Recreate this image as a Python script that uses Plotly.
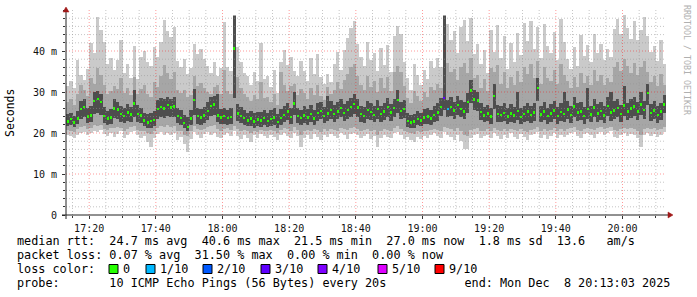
import plotly.graph_objects as go
import pandas as pd

# ---------------- data (ms), one sample per minute from 17:13 to 20:12 ----------------
ping_med = [
    22.8, 23.4, 22.6, 23.5, 25.8, 26.4, 24.0, 24.3, 27.8, 28.3,
    27.6, 24.2, 23.5, 23.8, 26.0, 25.7, 24.6, 24.2, 25.0, 24.5,
    27.2, 24.6, 24.3, 23.0, 22.6, 22.9, 23.2, 25.8, 26.4, 26.0,
    26.8, 26.2, 26.5, 24.2, 23.6, 22.4, 21.5, 23.5, 28.0, 24.1,
    23.8, 24.3, 25.4, 26.6, 26.9, 24.3, 23.8, 24.1, 23.6, 23.9,
    40.6, 24.8, 24.2, 23.6, 23.1, 23.5, 22.8, 23.3, 23.0, 23.6,
    22.9, 23.4, 23.8, 22.7, 23.6, 24.4, 25.2, 23.9, 27.2, 24.1,
    23.6, 24.3, 23.8, 24.6, 23.5, 24.9, 25.4, 24.2, 24.8, 25.6,
    24.7, 25.3, 26.1, 24.9, 25.6, 26.4, 27.1, 26.2, 24.6, 24.2,
    25.6, 25.1, 24.4, 25.8, 24.6, 25.2, 26.3, 25.0, 26.1, 28.0,
    25.4, 25.8, 22.9, 22.6, 22.8, 23.4, 23.1, 23.8, 24.0, 23.5,
    24.4, 25.0, 26.4, 28.6, 25.8, 26.4, 25.5, 26.8, 25.9, 25.3,
    27.6, 30.4, 28.2, 27.9, 25.1, 24.3, 24.8, 24.0, 29.0, 24.6,
    24.4, 24.9, 24.0, 24.8, 24.3, 25.4, 23.9, 24.6, 25.2, 24.4,
    25.0, 31.0, 24.5, 25.3, 24.1, 24.8, 25.5, 24.2, 25.1, 24.6,
    25.7, 24.4, 26.5, 25.0, 25.3, 24.1, 25.8, 24.5, 26.2, 24.8,
    25.4, 24.3, 26.6, 25.0, 25.5, 26.1, 24.6, 26.7, 25.2, 26.0,
    26.5, 25.3, 27.0, 25.6, 29.8, 24.9, 25.5, 24.4, 25.2, 27.0,
]
ping_min = [
    19.6, 19.2, 18.8, 19.5, 19.9, 20.3, 19.4, 20.1, 20.6, 20.2,
    20.8, 19.7, 19.3, 20.0, 19.1, 19.8, 20.4, 18.9, 19.6, 20.2,
    20.5, 19.4, 18.7, 19.2, 17.8, 16.7, 18.9, 19.8, 20.3, 19.5,
    20.1, 19.6, 19.9, 18.4, 19.0, 17.2, 15.4, 18.6, 20.2, 19.4,
    18.9, 19.8, 20.3, 19.5, 19.9, 19.1, 18.8, 19.6, 20.0, 19.3,
    20.4, 19.2, 18.6, 19.5, 18.9, 17.9, 19.4, 18.8, 19.7, 19.2,
    18.9, 19.6, 19.1, 18.3, 19.5, 20.0, 19.2, 18.7, 19.9, 19.3,
    16.7, 18.9, 19.5, 18.6, 19.8, 19.1, 18.4, 19.6, 19.0, 19.7,
    19.3, 18.8, 19.9, 19.4, 18.6, 19.8, 20.1, 19.5, 18.9, 19.2,
    19.7, 18.5, 19.3, 16.6, 18.8, 19.6, 19.1, 18.7, 19.9, 20.2,
    19.4, 18.6, 19.1, 18.4, 17.9, 19.0, 18.6, 19.3, 18.8, 19.5,
    19.9, 19.2, 18.7, 20.3, 19.5, 19.0, 18.4, 19.6, 18.1, 16.2,
    16.0, 18.9, 19.4, 19.8, 18.7, 19.2, 19.6, 18.8, 20.1, 19.3,
    18.6, 19.5, 18.8, 19.9, 19.1, 18.5, 19.7, 19.0, 18.3, 19.4,
    19.8, 20.2, 18.9, 19.5, 18.6, 19.3, 19.9, 18.7, 19.4, 19.0,
    19.6, 19.9, 20.3, 19.2, 18.8, 19.7, 20.0, 19.4, 18.9, 19.8,
    20.2, 19.5, 19.9, 20.4, 19.1, 18.7, 19.6, 20.1, 19.3, 19.8,
    19.4, 18.9, 16.6, 19.5, 20.0, 19.3, 19.8, 19.1, 19.6, 20.2,
]
ping_max = [
    31.5, 32.8, 30.9, 37.8, 34.2, 33.0, 35.6, 42.0, 39.5, 48.4,
    45.2, 42.1, 36.8, 38.2, 35.4, 37.9, 42.7, 34.6, 36.8, 33.5,
    41.3, 33.2, 38.5, 40.1, 37.2, 36.4, 41.0, 38.6, 42.3, 47.6,
    44.8, 43.5, 45.9, 37.6, 36.2, 38.0, 34.5, 35.8, 41.8, 39.2,
    40.6, 38.1, 36.4, 34.7, 37.3, 33.8, 35.9, 47.0, 36.2, 35.1,
    48.8, 40.9, 37.4, 34.6, 33.9, 31.7, 34.8, 32.6, 42.0, 33.1,
    34.0, 31.2, 35.3, 29.8, 37.2, 40.2, 36.7, 38.5, 35.2, 33.9,
    37.6, 35.1, 32.8, 38.2, 34.4, 39.3, 33.7, 31.9, 34.5, 32.4,
    36.8, 39.7, 35.4, 40.3, 43.1, 45.6, 47.2, 41.8, 38.6, 36.3,
    42.1, 37.8, 39.5, 35.2, 40.8, 36.6, 41.4, 34.9, 43.6, 46.0,
    44.2, 37.3, 33.4, 30.6, 36.9, 34.1, 31.8, 35.4, 33.2, 37.6,
    35.8, 38.4, 36.1, 48.8, 46.5, 42.7, 44.9, 39.6, 45.8, 47.5,
    42.4, 48.1, 39.2, 41.6, 36.8, 40.3, 34.7, 45.2, 39.8, 46.4,
    38.2, 43.7, 35.6, 41.9, 37.4, 44.3, 39.1, 46.8, 42.5, 47.2,
    40.6, 45.9, 38.3, 46.7, 41.2, 39.5, 44.6, 37.8, 47.9, 42.3,
    38.1, 35.7, 40.9, 36.4, 43.8, 38.9, 41.5, 37.2, 44.1, 39.6,
    41.8, 37.9, 40.4, 38.6, 45.3, 47.8, 44.2, 48.9, 45.6, 43.0,
    47.4, 42.8, 45.1, 48.2, 43.7, 39.8, 41.2, 37.5, 42.6, 36.9,
]
ping_lo = [
    20.8, 20.5, 20.3, 20.9, 21.4, 21.6, 20.9, 21.2, 22.0, 21.8,
    21.9, 21.0, 20.7, 21.1, 21.3, 21.5, 21.2, 20.6, 21.0, 21.4,
    21.7, 20.8, 20.4, 20.6, 20.1, 19.8, 20.5, 21.2, 21.8, 21.5,
    21.9, 21.4, 21.6, 20.6, 20.5, 19.6, 19.2, 20.4, 21.6, 20.9,
    20.7, 21.0, 21.5, 21.8, 21.9, 20.9, 20.6, 21.0, 21.1, 20.8,
    21.6, 20.9, 20.6, 20.8, 20.4, 20.0, 20.5, 20.3, 20.7, 20.6,
    20.4, 20.8, 20.6, 19.9, 20.7, 21.1, 21.0, 20.6, 21.4, 20.8,
    19.6, 20.5, 20.8, 20.4, 20.9, 20.7, 20.3, 20.9, 20.6, 21.0,
    20.8, 20.6, 21.3, 20.9, 20.7, 21.2, 21.5, 21.0, 20.6, 20.7,
    21.0, 20.4, 20.8, 19.5, 20.5, 20.9, 20.8, 20.4, 21.2, 21.6,
    20.9, 20.5, 20.3, 20.0, 19.7, 20.4, 20.2, 20.6, 20.5, 20.7,
    21.0, 20.8, 20.6, 21.4, 21.2, 20.9, 20.5, 21.1, 20.4, 19.4,
    19.3, 20.7, 20.9, 21.1, 20.5, 20.6, 20.9, 20.6, 21.3, 20.8,
    20.4, 20.9, 20.5, 21.0, 20.7, 20.4, 21.0, 20.6, 20.2, 20.8,
    21.0, 21.5, 20.6, 20.9, 20.5, 20.8, 21.1, 20.5, 20.9, 20.6,
    21.0, 21.1, 21.4, 20.8, 20.6, 21.0, 21.3, 20.9, 20.7, 21.1,
    21.4, 21.0, 21.2, 21.5, 20.8, 20.6, 21.0, 21.3, 20.9, 21.2,
    20.9, 20.6, 19.6, 21.0, 21.3, 20.9, 21.2, 20.7, 21.0, 21.4,
]
ping_hi = [
    27.5, 28.3, 26.9, 29.6, 31.8, 30.4, 29.1, 33.5, 32.0, 35.8,
    34.2, 31.6, 29.4, 30.2, 31.5, 30.8, 33.4, 29.7, 31.0, 29.3,
    33.6, 29.5, 30.7, 31.8, 29.6, 28.9, 32.4, 31.2, 33.8, 36.5,
    34.6, 33.2, 35.0, 30.4, 29.8, 30.6, 28.7, 29.3, 33.9, 31.5,
    32.2, 30.9, 30.0, 29.4, 31.2, 31.8, 29.6, 35.4, 30.2, 29.4,
    48.8, 33.6, 31.0, 29.5, 28.8, 27.9, 29.2, 28.4, 32.5, 28.6,
    28.9, 27.6, 29.5, 26.9, 35.0, 31.6, 30.2, 31.4, 32.0, 29.3,
    30.8, 29.7, 28.4, 31.0, 29.2, 31.8, 29.0, 28.1, 31.2, 29.4,
    30.6, 32.4, 30.8, 33.0, 34.5, 36.2, 36.9, 34.0, 31.8, 30.4,
    33.8, 31.2, 32.6, 30.1, 33.4, 30.9, 33.6, 30.2, 34.8, 36.4,
    35.0, 31.5, 28.6, 27.4, 30.3, 29.1, 27.8, 30.0, 28.9, 31.2,
    30.5, 32.0, 31.0, 48.8, 37.0, 34.8, 35.6, 32.9, 36.2, 37.1,
    34.6, 38.4, 33.5, 34.2, 31.0, 33.1, 30.2, 35.8, 35.0, 36.6,
    32.0, 34.8, 30.9, 33.7, 31.6, 35.2, 32.4, 36.0, 34.3, 36.8,
    33.4, 37.5, 32.0, 36.1, 33.5, 32.6, 35.4, 31.9, 36.8, 34.2,
    32.8, 30.9, 33.6, 31.2, 34.7, 32.2, 34.0, 31.6, 35.3, 32.8,
    34.1, 31.8, 33.5, 32.4, 36.0, 37.2, 35.1, 38.0, 36.3, 34.6,
    37.0, 34.2, 36.1, 37.5, 35.0, 32.4, 33.8, 31.5, 34.3, 31.7,
]
ping_dlo = [
    21.7, 22.0, 21.5, 22.1, 23.4, 23.8, 22.5, 22.6, 24.6, 24.9,
    24.3, 22.4, 21.9, 22.2, 23.6, 23.3, 22.8, 22.5, 23.0, 22.7,
    23.9, 22.8, 22.4, 21.8, 21.3, 21.2, 21.6, 23.4, 24.0, 23.7,
    24.2, 23.8, 24.0, 22.5, 22.0, 21.1, 20.4, 21.9, 24.3, 22.3,
    22.0, 22.5, 23.2, 24.1, 24.4, 22.6, 22.1, 22.3, 22.0, 22.2,
    28.5, 22.9, 22.5, 22.0, 21.6, 21.8, 21.3, 21.7, 21.5, 21.9,
    21.4, 21.8, 22.0, 21.3, 22.0, 22.6, 23.1, 22.2, 24.3, 22.4,
    21.9, 22.4, 22.0, 22.7, 21.9, 23.0, 23.4, 22.5, 22.9, 23.5,
    22.8, 23.3, 23.9, 22.9, 23.5, 24.0, 24.6, 23.9, 22.8, 22.5,
    23.5, 23.1, 22.6, 23.4, 22.7, 23.2, 24.0, 23.0, 23.9, 25.0,
    23.4, 23.7, 21.5, 21.2, 21.3, 21.9, 21.6, 22.1, 22.3, 21.9,
    22.6, 23.0, 24.1, 25.6, 23.8, 24.1, 23.5, 24.4, 23.8, 23.4,
    25.0, 27.2, 25.6, 25.3, 23.2, 22.6, 23.0, 22.3, 25.8, 22.8,
    22.6, 22.9, 22.1, 22.7, 22.4, 23.2, 22.1, 22.6, 23.0, 22.5,
    22.9, 27.8, 22.6, 23.2, 22.2, 22.8, 23.3, 22.3, 23.0, 22.7,
    23.4, 22.5, 24.0, 23.0, 23.2, 22.2, 23.5, 22.6, 23.8, 22.8,
    23.2, 22.4, 24.1, 23.0, 23.3, 23.8, 22.7, 24.2, 23.1, 23.7,
    24.1, 23.2, 24.4, 23.5, 26.8, 22.9, 23.4, 22.5, 23.2, 24.8,
]
ping_dhi = [
    24.6, 25.0, 24.2, 25.3, 27.9, 28.4, 26.0, 26.5, 30.0, 30.2,
    29.6, 26.3, 25.4, 25.9, 28.2, 27.6, 26.7, 26.0, 27.1, 26.4,
    30.5, 26.8, 26.1, 24.9, 24.6, 24.8, 25.3, 28.0, 28.6, 28.4,
    28.9, 28.3, 28.7, 26.1, 25.5, 24.3, 23.8, 25.6, 30.8, 26.2,
    25.8, 26.4, 27.5, 28.8, 29.1, 29.5, 25.9, 26.2, 25.6, 26.0,
    48.5, 27.0, 26.3, 25.6, 25.0, 25.4, 24.8, 25.2, 25.1, 25.7,
    24.9, 25.6, 26.0, 24.6, 25.8, 26.7, 27.4, 26.0, 30.0, 26.2,
    25.7, 26.5, 25.9, 26.8, 25.5, 27.2, 27.6, 26.3, 29.0, 27.8,
    26.9, 27.5, 28.3, 27.0, 27.8, 28.6, 29.5, 28.4, 26.7, 26.3,
    27.8, 27.2, 26.5, 28.0, 26.7, 27.4, 28.5, 27.1, 28.3, 30.5,
    27.6, 28.0, 24.8, 24.5, 24.7, 25.3, 25.0, 25.9, 26.1, 25.6,
    26.6, 27.2, 28.6, 48.5, 28.0, 28.7, 27.6, 29.0, 28.1, 27.5,
    29.8, 33.0, 30.4, 30.1, 27.2, 26.4, 26.9, 26.1, 32.0, 26.8,
    26.6, 27.2, 26.1, 27.0, 26.4, 30.0, 26.0, 26.7, 27.4, 26.5,
    27.2, 33.5, 26.6, 27.5, 26.2, 27.0, 27.7, 26.3, 27.3, 30.0,
    27.9, 26.6, 28.7, 27.2, 27.5, 26.3, 31.0, 26.7, 28.4, 27.0,
    27.6, 26.5, 28.8, 30.0, 27.7, 28.3, 26.8, 31.5, 27.4, 28.2,
    28.7, 27.5, 30.0, 27.8, 32.0, 27.1, 27.7, 26.6, 27.4, 29.2,
]
# packet loss per sample (pings lost out of 10); all other samples lost 0
loss_events = {113: 3, 114: 1}
loss_levels = [0, 1, 2, 3, 4, 5, 9]
loss_labels = ["0", "1/10", "2/10", "3/10", "4/10", "5/10", "9/10"]
loss_colors = ["#26ff00", "#00b8ff", "#0059ff", "#5e00ff", "#7e00ff", "#dd00ff", "#ff0000"]

y_tickvals = [0, 10, 20, 30, 40]
y_ticktext = ["0", "10 m", "20 m", "30 m", "40 m"]

legend_lines = [
    "median rtt:  24.7 ms avg  40.6 ms max  21.5 ms min  27.0 ms now  1.8 ms sd  13.6   am/s",
    "packet loss: 0.07 % avg  31.50 % max  0.00 % min  0.00 % now",
    "loss color:",
    "probe:       10 ICMP Echo Pings (56 Bytes) every 20s           end: Mon Dec  8 20:13:03 2025",
]

start = pd.Timestamp("2025-12-08 17:13:03")
end = pd.Timestamp("2025-12-08 20:13:03")
n = len(ping_med)
times = [start + pd.Timedelta(seconds=60 * i + 30) for i in range(n)]

# ---------------- layout geometry ----------------
W, H = 697, 297
L, R, T, B = 66, 31, 10, 82
PW, PH = W - L - R, H - T - B
Y_MAX = 50


def px(x):
    return (x - L) / PW


def py(y):
    return (H - B - y) / PH


MONO = "DejaVu Sans Mono"

fig = go.Figure()


def band(lo, hi, color):
    fig.add_trace(go.Bar(
        x=times, base=lo, y=[h - l for l, h in zip(lo, hi)], width=60000,
        marker=dict(color=color, line=dict(width=0)),
        hoverinfo="skip", showlegend=False))


band(ping_min, ping_max, "#cacaca")
band(ping_lo, ping_hi, "#a6a6a6")
band(ping_dlo, ping_dhi, "#4e4e4e")

loss = [loss_events.get(i, 0) for i in range(n)]
med_colors = [loss_colors[loss_levels.index(v)] for v in loss]
fig.add_trace(go.Bar(
    x=times, base=[m - 0.3 for m in ping_med], y=[0.6] * n, width=38000,
    marker=dict(color=med_colors, line=dict(width=0)),
    hoverinfo="skip", showlegend=False))

fig.update_layout(
    width=W, height=H,
    margin=dict(l=L, r=R, t=T, b=B, pad=0, autoexpand=False),
    paper_bgcolor="white", plot_bgcolor="white",
    barmode="overlay", bargap=0, showlegend=False,
    xaxis=dict(
        type="date", range=[start, end], tickformat="%H:%M",
        dtick=1200000, tick0="2025-12-08 17:20:00",
        showgrid=False,
        minor=dict(dtick=300000, tick0="2025-12-08 17:15:00", showgrid=False,
                   ticks="outside", ticklen=2, tickcolor="#333"),
        ticks="outside", ticklen=3, tickcolor="#333",
        zeroline=False, showline=False, fixedrange=True,
        tickfont=dict(family=MONO, size=10, color="#111"),
        ticklabelstandoff=1,
    ),
    yaxis=dict(
        range=[0, Y_MAX], tickvals=y_tickvals, ticktext=y_ticktext,
        showgrid=False,
        minor=dict(dtick=2, tick0=0, showgrid=False,
                   ticks="outside", ticklen=2, tickcolor="#333"),
        ticks="outside", ticklen=3, tickcolor="#333",
        zeroline=False, showline=False, fixedrange=True,
        tickfont=dict(family=MONO, size=10, color="#111"),
        ticklabelstandoff=3,
    ),
)

shapes = []
# dotted grid drawn above the smoke (as rrdtool does)
grid_major = dict(color="rgba(255,0,0,0.40)", width=1, dash="1px,2px")
grid_minor = dict(color="rgba(150,150,150,0.55)", width=1, dash="1px,2px")
t = pd.Timestamp("2025-12-08 17:15:00")
while t < end:
    major = (t.minute % 20 == 0)
    shapes.append(dict(type="line", xref="x", yref="paper", x0=t, x1=t, y0=0, y1=1,
                       line=grid_major if major else grid_minor, layer="above"))
    t += pd.Timedelta(minutes=5)
for v in range(2, Y_MAX, 2):
    major = (v % 10 == 0)
    shapes.append(dict(type="line", xref="paper", yref="y", x0=0, x1=1, y0=v, y1=v,
                       line=grid_major if major else grid_minor, layer="above"))

# axes with arrows
shapes.append(dict(type="line", xref="paper", yref="paper", x0=px(62), x1=px(669),
                   y0=py(215), y1=py(215), line=dict(color="#222", width=1)))
shapes.append(dict(type="line", xref="paper", yref="paper", x0=px(66), x1=px(66),
                   y0=py(219), y1=py(10), line=dict(color="#222", width=1)))
shapes.append(dict(type="path", xref="paper", yref="paper",
                   path=f"M {px(668)} {py(212)} L {px(673)} {py(215)} L {px(668)} {py(218)} Z",
                   fillcolor="#a01818", line=dict(color="#a01818", width=0.5)))
shapes.append(dict(type="path", xref="paper", yref="paper",
                   path=f"M {px(63)} {py(12)} L {px(66)} {py(7)} L {px(69)} {py(12)} Z",
                   fillcolor="#a01818", line=dict(color="#a01818", width=0.5)))

annotations = []
line_y = [241, 255, 269, 283]
for txt, yy in zip(legend_lines, line_y):
    annotations.append(dict(
        text=txt.replace(" ", "\u00a0"), x=px(15), y=py(yy), xref="paper", yref="paper",
        xanchor="left", yanchor="middle", showarrow=False,
        font=dict(family=MONO, size=11.8, color="#000")))

box_x = [109, 146, 203, 261, 318, 378, 435]
for bx, lab, col in zip(box_x, loss_labels, loss_colors):
    shapes.append(dict(type="rect", xref="paper", yref="paper",
                       x0=px(bx), x1=px(bx + 9), y0=py(273.5), y1=py(264.5),
                       fillcolor=col, line=dict(color="#000", width=1)))
    annotations.append(dict(
        text=lab, x=px(bx + 12), y=py(269), xref="paper", yref="paper",
        xanchor="left", yanchor="middle", showarrow=False,
        font=dict(family=MONO, size=11.8, color="#000")))

annotations.append(dict(
    text="Seconds", x=px(10), y=py(113), xref="paper", yref="paper",
    xanchor="center", yanchor="middle", showarrow=False, textangle=-90,
    font=dict(family=MONO, size=11.5, color="#000")))
annotations.append(dict(
    text="RRDTOOL / TOBI OETIKER", x=px(687), y=py(60), xref="paper", yref="paper",
    xanchor="center", yanchor="middle", showarrow=False, textangle=90,
    font=dict(family=MONO, size=8.3, color="#b0b0b0")))

fig.update_layout(shapes=shapes, annotations=annotations)
fig.write_html("out.html")
